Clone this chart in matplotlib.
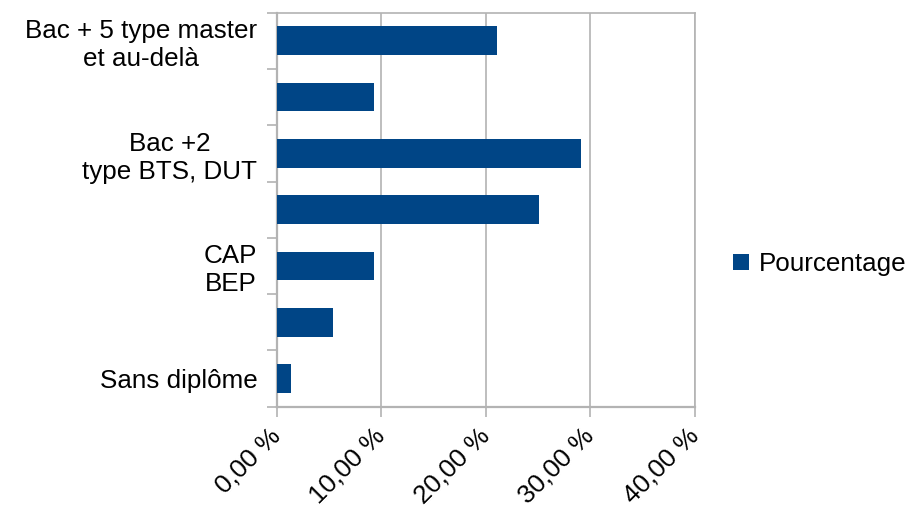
import matplotlib
matplotlib.use('Agg')

import matplotlib.pyplot as plt
import numpy as np

plt.rcParams['font.family'] = ['Liberation Sans', 'DejaVu Sans']

# categories from bottom to top; every other label is not shown on the chart
labels = ['Sans diplôme', '', 'CAP\nBEP', '', 'Bac +2\ntype BTS, DUT', '',
          'Bac + 5 type master\net au-delà']
values = [1.37, 5.38, 9.30, 25.08, 29.09, 9.30, 21.06]
xticks = [0, 10, 20, 30, 40]
xticklabels = ['0,00 %', '10,00 %', '20,00 %', '30,00 %', '40,00 %']

blue = '#004586'
gray = '#b3b3b3'
fs = 18.7

fig = plt.figure(figsize=(9.05, 5.07), dpi=100)
ax = fig.add_axes([0.3058, 0.198, 0.4622, 0.777])

y = np.arange(len(values))
ax.barh(y, values, height=0.51, color=blue, label='Pourcentage', zorder=3)

ax.set_xlim(0, 40)
ax.set_ylim(-0.5, len(values) - 0.5)

ax.set_xticks(xticks)
ax.set_xticklabels(xticklabels, rotation=45, ha='right', va='center',
                   rotation_mode='anchor', fontsize=fs)
ax.tick_params(axis='x', length=7.5, width=1.2, color=gray, pad=11)

ax.set_yticks(y)
ax.set_yticklabels(labels, fontsize=fs, multialignment='center')
ax.tick_params(axis='y', which='major', length=0, pad=14)
ax.set_yticks(np.arange(len(values) + 1) - 0.5, minor=True)
ax.tick_params(axis='y', which='minor', length=7.5, width=1.2, color=gray)

ax.grid(True, axis='x', color=gray, linewidth=1.2, zorder=0)
for side in ['left', 'bottom', 'top', 'right']:
    ax.spines[side].set_color(gray)
    ax.spines[side].set_linewidth(1.2)
ax.spines['left'].set_linewidth(1.6)
ax.spines['bottom'].set_linewidth(1.6)

fig.legend(loc='center left', bbox_to_anchor=(733 / 905, 1 - 264 / 507),
           frameon=False, fontsize=fs, handlelength=0.6, handleheight=0.6,
           handletextpad=0.4, borderpad=0, borderaxespad=0)

plt.savefig('out.png', dpi=100)
